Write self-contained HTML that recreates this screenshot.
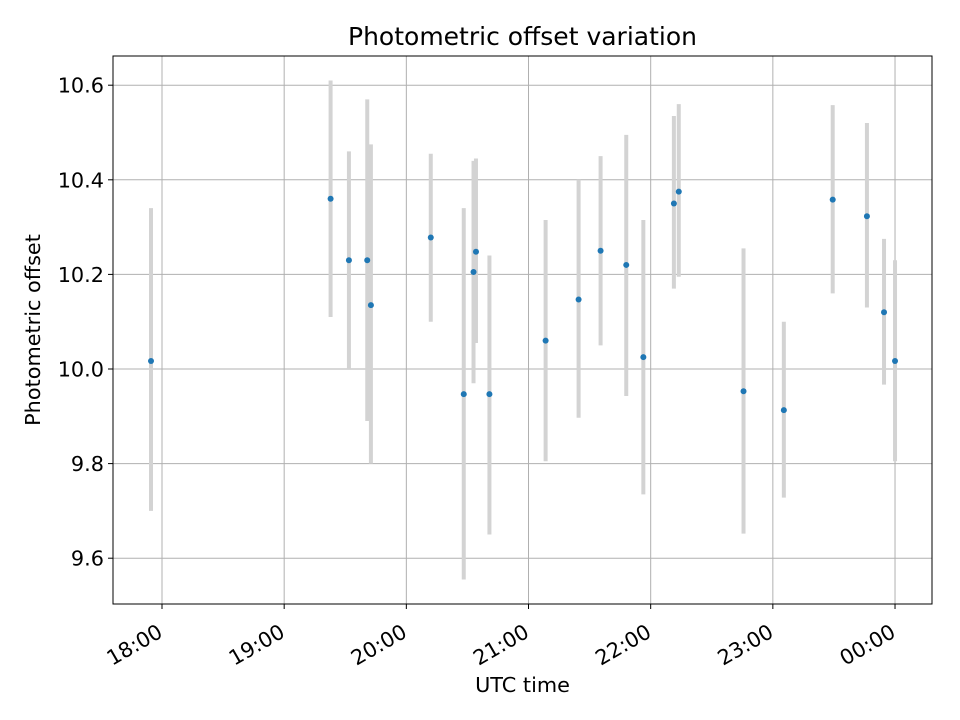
<!DOCTYPE html>
<html><head><meta charset="utf-8"><style>
body{margin:0;background:#fff;}
svg{display:block;font-family:"DejaVu Sans","Liberation Sans",sans-serif;}
</style></head><body>
<svg id="chart" width="960" height="720"></svg>
<script>
const times=[-0.09,1.38,1.53,1.68,1.71,2.20,2.47,2.55,2.57,2.68,3.14,3.41,3.59,3.80,3.94,4.19,4.23,4.76,5.09,5.49,5.77,5.91,6.0];
const values=[10.017,10.36,10.23,10.23,10.135,10.278,9.947,10.205,10.248,9.947,10.06,10.147,10.25,10.22,10.025,10.35,10.375,9.953,9.913,10.358,10.323,10.12,10.017];
const errTop=[10.34,10.61,10.46,10.57,10.475,10.455,10.34,10.44,10.445,10.24,10.315,10.40,10.45,10.495,10.315,10.535,10.56,10.255,10.10,10.558,10.52,10.275,10.23];
const errBot=[9.70,10.11,10.00,9.89,9.80,10.10,9.555,9.97,10.055,9.65,9.805,9.897,10.05,9.943,9.735,10.17,10.195,9.652,9.728,10.16,10.13,9.967,9.805];
const xTickVals=[0,1,2,3,4,5,6];
const xTickLabels=["18:00","19:00","20:00","21:00","22:00","23:00","00:00"];
const yTickVals=[9.6,9.8,10.0,10.2,10.4,10.6];
const yTickLabels=["9.6","9.8","10.0","10.2","10.4","10.6"];

const L=113,R=932,T=56,B=604;
const x=h=>162+h*122.17;
const y=v=>369-(v-10)*473;
const svg=document.getElementById('chart');
const NS='http://www.w3.org/2000/svg';
function mk(tag,attrs,parent){const e=document.createElementNS(NS,tag);for(const k in attrs)e.setAttribute(k,attrs[k]);(parent||svg).appendChild(e);return e;}

xTickVals.forEach((v,i)=>{
  const g=mk('line',{x1:x(v),x2:x(v),y1:T,y2:B,stroke:'#b0b0b0','stroke-width':1});
  
  
  const t=mk('line',{x1:x(v),x2:x(v),y1:B,y2:B+5,stroke:'#000','stroke-width':1});
  
  
  const lb=mk('text',{x:0,y:0,'font-size':20.8,'text-anchor':'end',transform:`translate(${x(v)+2},${B+32}) rotate(-30)`});
  lb.textContent=xTickLabels[i];
  
  
});
yTickVals.forEach((v,i)=>{
  const g=mk('line',{x1:L,x2:R,y1:y(v),y2:y(v),stroke:'#b0b0b0','stroke-width':1});
  
  
  const t=mk('line',{x1:L-5,x2:L,y1:y(v),y2:y(v),stroke:'#000','stroke-width':1});
  
  
  const lb=mk('text',{x:L-9,y:y(v)+7.5,'font-size':20.8,'text-anchor':'end'});
  lb.textContent=yTickLabels[i];
  
  
});
times.forEach((h,i)=>{
  const e=mk('line',{x1:x(h),x2:x(h),y1:y(errTop[i]),y2:y(errBot[i]),stroke:'#d3d3d3','stroke-width':4});
  
  
});
times.forEach((h,i)=>{
  const c=mk('circle',{cx:x(h),cy:y(values[i]),r:3,fill:'#1f77b4'});
  
  
});
const fr=mk('rect',{x:L,y:T,width:R-L,height:B-T,fill:'none',stroke:'#000','stroke-width':1});


const title=mk('text',{x:(L+R)/2,y:45,'font-size':25,'text-anchor':'middle'});
title.textContent='Photometric offset variation';


const xl=mk('text',{x:(L+R)/2,y:692,'font-size':20.8,'text-anchor':'middle'});
xl.textContent='UTC time';


const yl=mk('text',{x:0,y:0,'font-size':20.8,'text-anchor':'middle',transform:`translate(40,${(T+B)/2}) rotate(-90)`});
yl.textContent='Photometric offset';


</script>
</body></html>
